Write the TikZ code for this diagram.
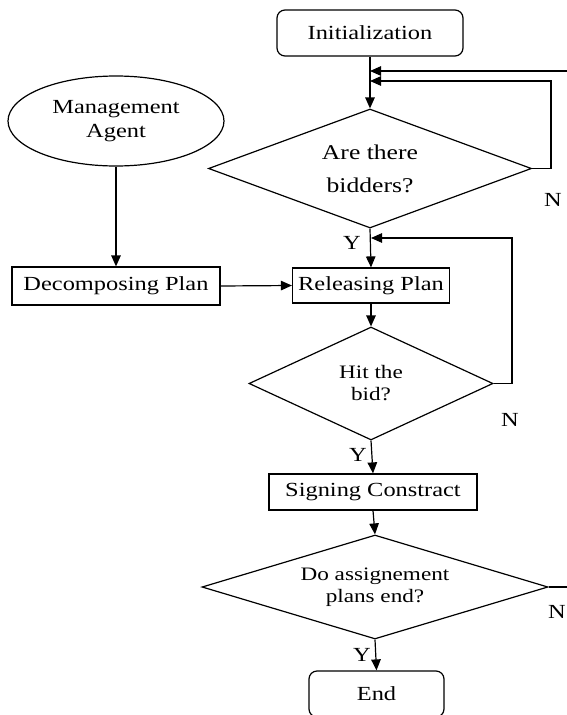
\documentclass[tikz,border=0pt]{standalone}
\usepackage{fontspec}
\setmainfont{Liberation Serif}[FakeStretch=1.22]
\usetikzlibrary{shapes.geometric,arrows.meta}
\begin{document}
\begin{tikzpicture}[x=1pt,y=-1pt,
  line width=1.2pt,
  arr/.style={-{Triangle[length=11pt,width=9.5pt]}},
  boxnode/.style={draw,rectangle,inner sep=0pt,font=\fontsize{20}{24}\selectfont},
  roundnode/.style={boxnode,rounded corners=8pt},
  decnode/.style={draw,diamond,inner sep=0pt,align=center,shape aspect=2.7},
  lbl/.style={inner sep=0pt,font=\fontsize{20}{24}\selectfont}]
\useasboundingbox (0,0) rectangle (567,715);

\node[roundnode,minimum width=186pt,minimum height=46pt] (init) at (370,33) {Initialization};
\node[draw,ellipse,inner sep=0pt,minimum width=216pt,minimum height=90pt,align=center,
  font=\fontsize{20}{24}\selectfont] (agent) at (116,121) {Management\\Agent};
\node[decnode,minimum width=323pt,minimum height=119pt,
  font=\fontsize{21}{33}\selectfont] (d1) at (370,168.5) {Are there\\bidders?};
\node[boxnode,minimum width=208pt,minimum height=38pt] (dec) at (116,286) {Decomposing Plan};
\node[boxnode,minimum width=157pt,minimum height=35pt] (rel) at (371,285.5) {Releasing Plan};
\node[decnode,minimum width=244pt,minimum height=113pt,
  font=\fontsize{19}{22}\selectfont] (d2) at (371,383.5) {Hit the\\bid?};
\node[boxnode,minimum width=208pt,minimum height=36pt] (sign) at (373,492) {Signing Constract};
\node[decnode,minimum width=346pt,minimum height=104pt,
  font=\fontsize{19}{22}\selectfont] (d3) at (375,587) {Do assignement\\plans end?};
\node[roundnode,minimum width=135pt,minimum height=46pt] (fin) at (376.5,694) {End};

% labels
\node[lbl] (y1) at (352,243) {Y};
\node[lbl] (y2) at (358,455) {Y};
\node[lbl] (y3) at (362,655) {Y};
\node[lbl] (n1) at (553,200) {N};
\node[lbl] (n2) at (510,420) {N};
\node[lbl] (n3) at (557,612) {N};

% junction coordinates
\coordinate (j0) at (370,71);
\coordinate (j1) at (370,81);
\coordinate (c1) at (551,81);
\coordinate (j2) at (371,238);
\coordinate (c2) at (512,238);
\coordinate (e3) at (567,587);
\coordinate (e0) at (567,71);

% connectors
\draw[arr] (init.south) -- (d1.north);
\draw[arr] (d1.east) -| (c1) -- (j1);
\draw[arr] (e0) -- (j0);
\draw (d3.east) -- (e3);
\draw[arr] (d1.south) -- (rel.north);
\draw[arr] (d2.east) -| (c2) -- (j2);
\draw[arr] (agent.south) -- (dec.north);
\draw[arr] (dec.east) -- (rel.west);
\draw[arr] (rel.south) -- (d2.north);
\draw[arr] (d2.south) -- (sign.north);
\draw[arr] (sign.south) -- (d3.north);
\draw[arr] (d3.south) -- (fin.north);
\end{tikzpicture}
\end{document}
